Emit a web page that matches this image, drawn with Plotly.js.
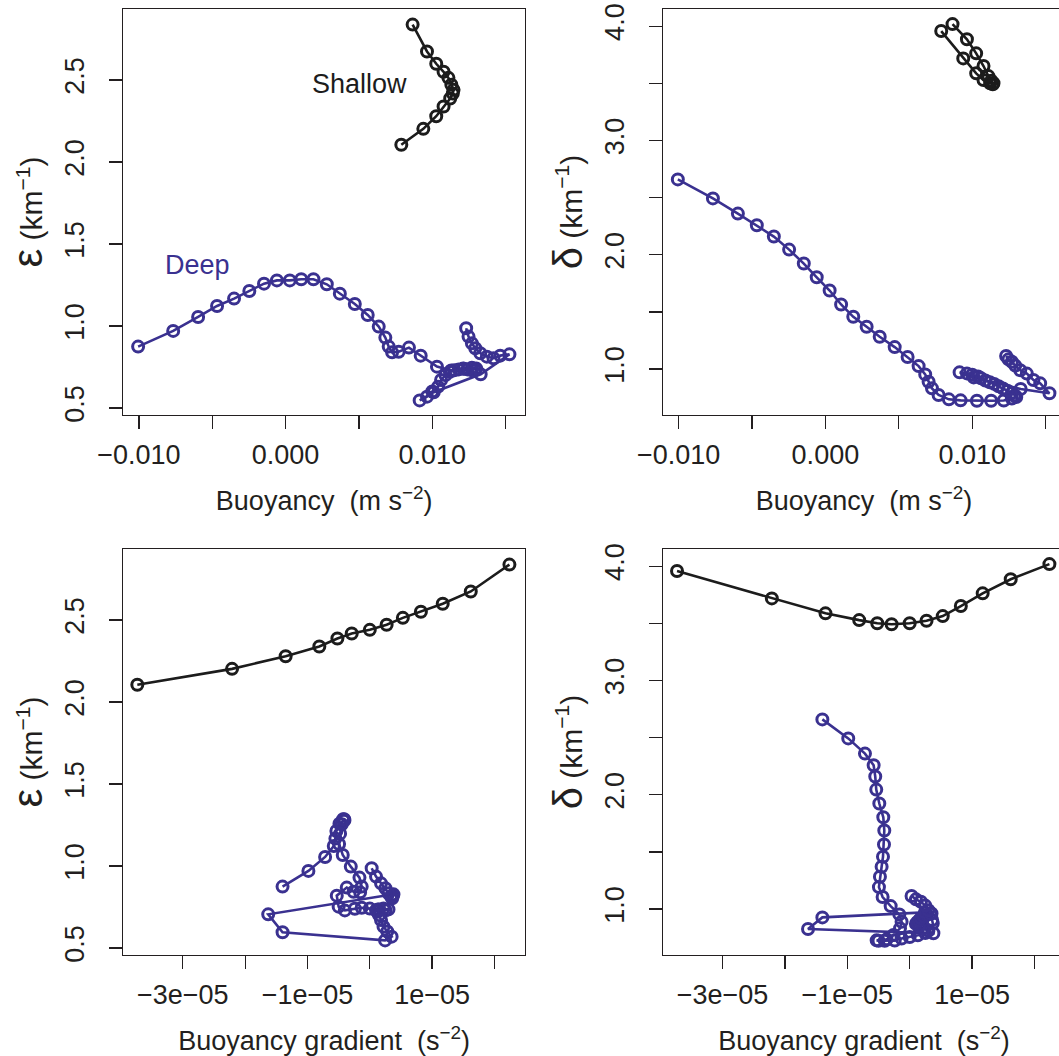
<!DOCTYPE html>
<html><head><meta charset="utf-8">
<script src="https://cdn.plot.ly/plotly-3.0.1.min.js"></script>
<style>html,body{margin:0;padding:0;overflow:hidden;background:#fff}#chart{width:1070px;height:1056px}</style>
</head><body><div id="chart"></div>
<script>
// ---- Shallow case ----
const shallowBuoy  = [0.00789,0.00939,0.01027,0.01077,0.01122,0.01140,0.01145,0.01130,0.01110,0.01077,0.01027,0.00964,0.00866];
const shallowGrad  = [-3.73e-5,-2.21e-5,-1.35e-5,-0.81e-5,-0.52e-5,-0.29e-5,0.0,0.27e-5,0.53e-5,0.82e-5,1.17e-5,1.62e-5,2.24e-5];
const shallowEps   = [2.105,2.202,2.279,2.338,2.387,2.418,2.440,2.471,2.513,2.550,2.599,2.674,2.838];
const shallowDelta = [3.957,3.718,3.587,3.528,3.500,3.491,3.500,3.522,3.563,3.651,3.762,3.885,4.018];

// ---- Deep case ----
const deepBuoy = [-0.01005,-0.00766,-0.00596,-0.00467,-0.00351,-0.00247,-0.00147,-0.00059,0.00029,0.00107,0.00190,0.00281,0.00370,0.00472,0.00560,0.00635,0.00680,
  0.00703,0.00726,0.00771,0.00841,0.00921,0.01032,0.01129,0.01215,0.01270,
  0.01300,0.01290,
  0.01270,0.01240,0.01210,0.01180,0.01150,0.01120,0.01090,0.01060,0.01040,0.01000,
  0.00964,0.00914,0.01010,0.01330,0.01526,0.01463,0.01417,0.01372,0.01327,0.01293,0.01270,0.01247,0.01231];
const deepGrad = [-1.40e-5,-0.985e-5,-0.717e-5,-0.578e-5,-0.552e-5,-0.536e-5,-0.487e-5,-0.423e-5,-0.407e-5,-0.412e-5,-0.428e-5,-0.450e-5,-0.477e-5,-0.493e-5,-0.434e-5,-0.305e-5,-0.166e-5,
  -0.13e-5,-0.155e-5,-0.26e-5,-0.37e-5,-0.53e-5,-0.50e-5,-0.40e-5,-0.24e-5,-0.13e-5,
  0.0,0.13e-5,
  0.25e-5,0.30e-5,0.22e-5,0.15e-5,0.10e-5,0.12e-5,0.15e-5,0.18e-5,0.22e-5,0.28e-5,
  0.35e-5,0.245e-5,-1.40e-5,-1.63e-5,0.38e-5,0.37e-5,0.36e-5,0.34e-5,0.30e-5,0.25e-5,0.18e-5,0.10e-5,0.03e-5];
const deepEps = [0.874,0.970,1.055,1.122,1.167,1.213,1.258,1.278,1.278,1.285,1.285,1.254,1.197,1.134,1.067,0.996,0.929,
  0.874,0.839,0.843,0.868,0.819,0.752,0.729,0.739,0.745,
  0.740,0.735,
  0.730,0.735,0.740,0.735,0.730,0.720,0.700,0.670,0.630,0.600,
  0.569,0.546,0.596,0.705,0.827,0.819,0.803,0.813,0.834,0.864,0.894,0.935,0.986];
const deepDelta = [2.659,2.493,2.360,2.258,2.159,2.045,1.923,1.803,1.687,1.565,1.457,1.370,1.282,1.192,1.105,1.026,0.953,
  0.889,0.831,0.773,0.735,0.726,0.723,0.723,0.725,0.742,
  0.755,0.770,
  0.790,0.810,0.830,0.850,0.870,0.885,0.900,0.920,0.935,0.950,
  0.962,0.971,0.927,0.825,0.788,0.875,0.904,0.960,0.990,1.030,1.064,1.085,1.114];

// ---- tick labels ----
const buoyTickVals = [-0.01,-0.005,0,0.005,0.01,0.015];
const buoyTickText = ["\u22120.010","","0.000","","0.010",""];
const gradTickVals = [-3e-5,-2e-5,-1e-5,0,1e-5,2e-5];
const gradTickText = ["\u22123e\u221205","","\u22121e\u221205","","1e\u221205",""];
const epsTickVals = [0.5,1.0,1.5,2.0,2.5];
const epsTickText = ["0.5","1.0","1.5","2.0","2.5"];
const deltaTickVals = [1.0,1.5,2.0,2.5,3.0,3.5,4.0];
const deltaTickText = ["1.0","","2.0","","3.0","","4.0"];

const deepColor = "#3a3190";
const shallowColor = "#1c1c1c";
const ink = "#231f20";
const FONT = "'Liberation Sans', Arial, Helvetica, sans-serif";

function tr(x, y, color, xa, ya) {
  return {x: x, y: y, xaxis: xa, yaxis: ya, type: "scatter", mode: "lines+markers",
    line: {color: color, width: 2.6},
    marker: {symbol: "circle-open", size: 11, color: color, line: {width: 3, color: color}},
    hoverinfo: "skip"};
}
const data = [
  tr(deepBuoy, deepEps, deepColor, "x", "y"),
  tr(shallowBuoy, shallowEps, shallowColor, "x", "y"),
  tr(deepBuoy, deepDelta, deepColor, "x2", "y2"),
  tr(shallowBuoy, shallowDelta, shallowColor, "x2", "y2"),
  tr(deepGrad, deepEps, deepColor, "x3", "y3"),
  tr(shallowGrad, shallowEps, shallowColor, "x3", "y3"),
  tr(deepGrad, deepDelta, deepColor, "x4", "y4"),
  tr(shallowGrad, shallowDelta, shallowColor, "x4", "y4")
];

const W = 1070, H = 1056;
const common = {showline: true, linecolor: ink, linewidth: 1.3, mirror: true, ticks: "outside", ticklen: 13,
  tickwidth: 1.3, tickcolor: ink, showgrid: false, zeroline: false, automargin: false,
  tickfont: {family: FONT, size: 27, color: ink}};
const xLeft = [123.3/W, 525/W], xRight = [663/W, 1065/W];
const yTop = [1-415/H, 1-9/H], yBot = [1-955/H, 1-549/H];
const bRange = [-0.01106, 0.01632], gRange = [-3.955e-5, 2.49e-5];
const eRange = [0.457, 2.933], dRange = [0.598, 4.15];

function xax(dom, anchor, range, vals, text, title) {
  return Object.assign({}, common, {domain: dom, anchor: anchor, range: range, tickvals: vals, ticktext: text,
    ticklabelstandoff: 2,
    title: {text: title, font: {family: FONT, size: 27, color: ink}, standoff: 22}});
}
function yax(dom, anchor, range, vals, text, title) {
  return Object.assign({}, common, {domain: dom, anchor: anchor, range: range, tickvals: vals, ticktext: text,
    tickangle: -90, ticklabelstandoff: 14,
    title: {text: title, font: {family: FONT, size: 30, color: ink}, standoff: 8}});
}
const bTitle = "Buoyancy\u00a0 (m\u00a0s<sup>\u22122</sup>)";
const gTitle = "Buoyancy gradient\u00a0 (s<sup>\u22122</sup>)";
const eTitle = "<span style='font-size:42px'>\u03b5</span>\u00a0(km<sup>\u22121</sup>)";
const dTitle = "<span style='font-size:40px'>\u03b4</span>\u00a0(km<sup>\u22121</sup>)";

const layout = {
  width: W, height: H, margin: {l: 0, r: 0, t: 0, b: 0},
  paper_bgcolor: "#ffffff", plot_bgcolor: "#ffffff", showlegend: false,
  font: {family: FONT, size: 27, color: ink},
  xaxis: xax(xLeft, "y", bRange, buoyTickVals, buoyTickText, bTitle),
  yaxis: yax(yTop, "x", eRange, epsTickVals, epsTickText, eTitle),
  xaxis2: xax(xRight, "y2", bRange, buoyTickVals, buoyTickText, bTitle),
  yaxis2: yax(yTop, "x2", dRange, deltaTickVals, deltaTickText, dTitle),
  xaxis3: xax(xLeft, "y3", gRange, gradTickVals, gradTickText, gTitle),
  yaxis3: yax(yBot, "x3", eRange, epsTickVals, epsTickText, eTitle),
  xaxis4: xax(xRight, "y4", gRange, gradTickVals, gradTickText, gTitle),
  yaxis4: yax(yBot, "x4", dRange, deltaTickVals, deltaTickText, dTitle),
  annotations: [
    {text: "Shallow", x: 0.00501, y: 2.476, xref: "x", yref: "y", showarrow: false,
     font: {family: FONT, size: 27, color: shallowColor}},
    {text: "Deep", x: -0.0060, y: 1.37, xref: "x", yref: "y", showarrow: false,
     font: {family: FONT, size: 27, color: deepColor}}
  ]
};
Plotly.newPlot("chart", data, layout, {staticPlot: true, displayModeBar: false});
</script></body></html>
